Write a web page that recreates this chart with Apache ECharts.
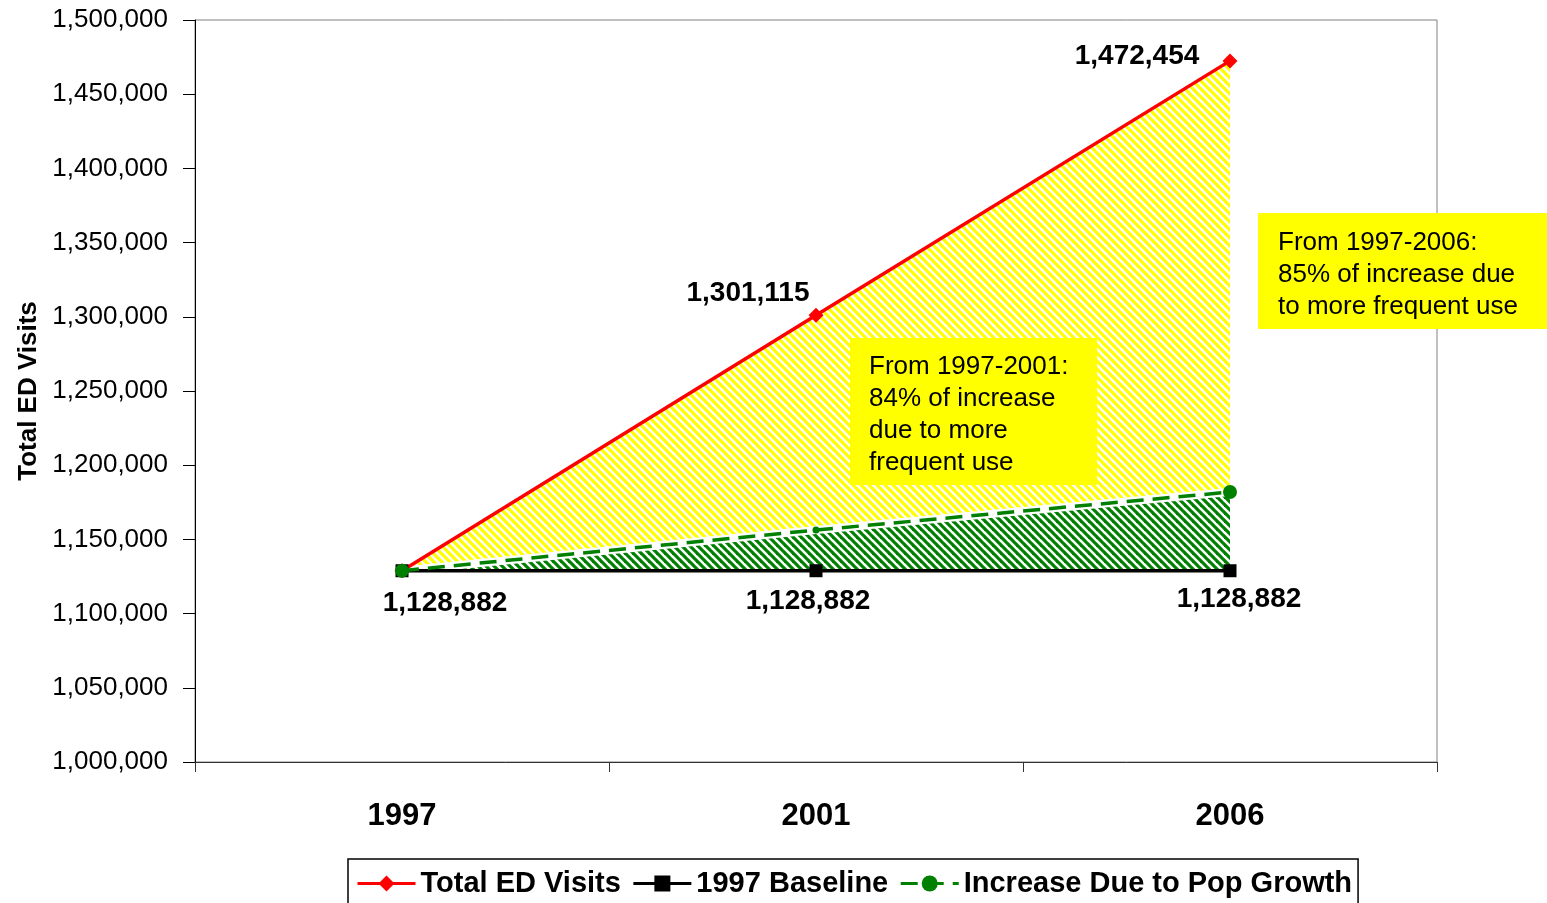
<!DOCTYPE html>
<html>
<head>
<meta charset="utf-8">
<script src="https://cdn.jsdelivr.net/npm/echarts@6/dist/echarts.min.js"></script>
<style>html,body{margin:0;padding:0;background:#fff;}#c{width:1547px;height:903px;}</style>
</head>
<body>
<div id="c"></div>
<script>
// ---- data ----
var years = ['1997', '2001', '2006'];
var totalVisits = [1128882, 1301115, 1472454];
var baseline = [1128882, 1128882, 1128882];
var popGrowth = [1128882, 1156300, 1181900];
var yTicks = { min: 1000000, max: 1500000, interval: 50000 };

// ---- styles ----
var FONT = "'Liberation Sans', Arial, sans-serif";
var totalLabelOffsets = [null, [-68, -22], [-93, -5]];
var baseLabelOffsets = [[43, 33], [-8, 31], [9, 29]];

function hatch(color) {
  var s = 8;
  var c = document.createElement('canvas');
  c.width = s; c.height = s;
  var g = c.getContext('2d');
  g.fillStyle = '#ffffff';
  g.fillRect(0, 0, s, s);
  g.strokeStyle = color;
  g.lineWidth = 3.2;
  [-s, 0, s].forEach(function (k) {
    g.beginPath(); g.moveTo(-2, k - 2); g.lineTo(s + 2, k + s + 2); g.stroke();
  });
  return { image: c, repeat: 'repeat' };
}

var greenDiff = popGrowth.map(function (v, i) { return v - baseline[i]; });
var yellowDiff = totalVisits.map(function (v, i) { return v - popGrowth[i]; });

function fmt(v) { return Number(v).toLocaleString('en-US'); }

var totalData = totalVisits.map(function (v, i) {
  var o = { value: v };
  if (totalLabelOffsets[i]) {
    o.label = { show: true, position: 'inside', offset: totalLabelOffsets[i] };
  }
  return o;
});
var baseData = baseline.map(function (v, i) {
  return { value: v, label: { show: true, position: 'inside', offset: baseLabelOffsets[i] } };
});
var popData = popGrowth.map(function (v, i) {
  return i === 1 ? { value: v, symbolSize: 7 } : v;
});

var boldLabel = { fontFamily: FONT, fontWeight: 'bold', fontSize: 28, color: '#000', formatter: function (p) { return fmt(p.value); } };

var chart = echarts.init(document.getElementById('c'));
chart.setOption({
  animation: false,
  backgroundColor: '#fff',
  grid: { left: 195, right: 110, top: 20, bottom: 141, containLabel: false, outerBoundsMode: 'none',
          show: true, borderColor: '#808080', borderWidth: 1 },
  legend: {
    data: ['Total ED Visits', '1997 Baseline', 'Increase Due to Pop Growth'],
    left: 348, top: 859,
    padding: [10, 6, 30, 8],
    borderColor: '#000', borderWidth: 1.5,
    itemWidth: 58, itemHeight: 20, itemGap: 11,
    lineStyle: { width: 3 },
    textStyle: { fontFamily: FONT, fontWeight: 'bold', fontSize: 29, color: '#000' }
  },
  xAxis: {
    type: 'category', data: years, boundaryGap: true,
    axisLine: { lineStyle: { color: '#333', width: 1 } },
    axisTick: { show: true, length: 10, lineStyle: { color: '#333' } },
    axisLabel: { margin: 39, fontFamily: FONT, fontWeight: 'bold', fontSize: 31, color: '#000' }
  },
  yAxis: {
    type: 'value', min: yTicks.min, max: yTicks.max, interval: yTicks.interval,
    name: 'Total ED Visits', nameLocation: 'middle', nameGap: 143,
    nameTextStyle: { fontFamily: FONT, fontWeight: 'bold', fontSize: 26, color: '#000' },
    axisLine: { show: true, lineStyle: { color: '#000', width: 1 } },
    axisTick: { show: true, length: 12, lineStyle: { color: '#000' } },
    splitLine: { show: false },
    axisLabel: { margin: 27, fontFamily: FONT, fontSize: 26, color: '#000', padding: [5, 0, 0, 0], formatter: fmt }
  },
  series: [
    { name: '_base', type: 'line', stack: 'area', data: baseline, symbol: 'none', lineStyle: { opacity: 0 }, silent: true, z: 1 },
    { name: '_green', type: 'line', stack: 'area', data: greenDiff, symbol: 'none', lineStyle: { opacity: 0 }, areaStyle: { color: hatch('#008000'), opacity: 1 }, silent: true, z: 1 },
    { name: '_yellow', type: 'line', stack: 'area', data: yellowDiff, symbol: 'none', lineStyle: { opacity: 0 }, areaStyle: { color: hatch('#ffff00'), opacity: 1 }, silent: true, z: 1 },
    { name: '_gap', type: 'line', data: popGrowth, symbol: 'none', lineStyle: { color: '#ffffff', width: 8 }, silent: true, z: 2 },
    { name: 'Total ED Visits', type: 'line', data: totalData, symbol: 'diamond', symbolSize: 15,
      itemStyle: { color: '#ff0000' }, lineStyle: { color: '#ff0000', width: 3.5 }, label: boldLabel, z: 3 },
    { name: '1997 Baseline', type: 'line', data: baseData, symbol: 'rect', symbolSize: 13,
      itemStyle: { color: '#000' }, lineStyle: { color: '#000', width: 3.5 }, label: boldLabel, z: 4 },
    { name: 'Increase Due to Pop Growth', type: 'line', data: popData, symbol: 'circle', symbolSize: 14,
      itemStyle: { color: '#008000' }, lineStyle: { color: '#008000', width: 3.5, type: [17, 9] }, z: 5 }
  ],
  graphic: [
    { type: 'rect', left: 850, top: 338, shape: { width: 247, height: 147 }, style: { fill: '#ffff00' }, z: 10 },
    { type: 'text', left: 869, top: 351, z: 11,
      style: { text: 'From 1997-2001:\n84% of increase\ndue to more\nfrequent use', fontFamily: FONT, fontSize: 26, lineHeight: 32, fill: '#000' } },
    { type: 'rect', left: 1258, top: 213, shape: { width: 289, height: 116 }, style: { fill: '#ffff00' }, z: 10 },
    { type: 'text', left: 1278, top: 227, z: 11,
      style: { text: 'From 1997-2006:\n85% of increase due\nto more frequent use', fontFamily: FONT, fontSize: 26, lineHeight: 32, fill: '#000' } }
  ]
});
</script>
</body>
</html>
